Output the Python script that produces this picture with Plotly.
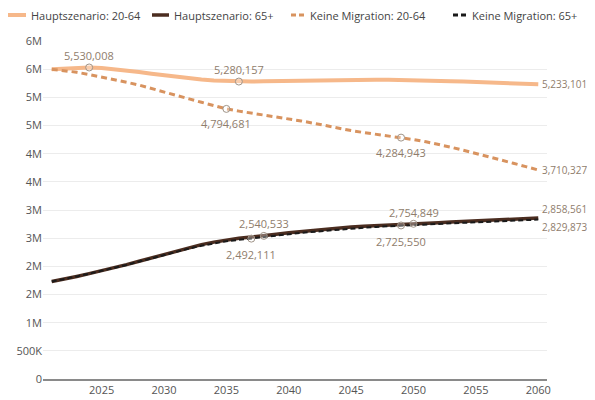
import plotly.graph_objects as go

years = list(range(2021, 2061))

haupt_2064 = [5500000, 5512000, 5524000, 5530008, 5522000, 5503000, 5478000, 5450000, 5420000, 5390000,
              5362000, 5338000, 5316000, 5300000, 5288000, 5280157, 5280000, 5284000, 5289000, 5294000,
              5298000, 5302000, 5305000, 5308000, 5310000, 5311000, 5311000, 5310000, 5308000, 5305000,
              5300000, 5294000, 5287000, 5280000, 5272000, 5264000, 5256000, 5248000, 5240000, 5233101]

haupt_65 = [1730000, 1770000, 1820000, 1870000, 1920000, 1970000, 2030000, 2090000, 2150000, 2210000,
            2270000, 2330000, 2385000, 2430000, 2470000, 2500000, 2522000, 2540533, 2570000, 2598000,
            2620000, 2641000, 2661000, 2680000, 2697000, 2711000, 2724000, 2735000, 2745000, 2754849,
            2765000, 2775000, 2785000, 2795000, 2805000, 2815000, 2825000, 2835000, 2847000, 2858561]

keine_2064 = [5500000, 5478000, 5445000, 5405000, 5362000, 5316000, 5268000, 5218000, 5160000, 5095000,
              5033000, 4972000, 4912000, 4852000, 4794681, 4755000, 4722000, 4690000, 4655000, 4620000,
              4580000, 4540000, 4495000, 4450000, 4410000, 4375000, 4345000, 4315000, 4284943, 4250000,
              4210000, 4165000, 4115000, 4060000, 4005000, 3950000, 3890000, 3830000, 3770000, 3710327]

keine_65 = [1730000, 1770000, 1820000, 1870000, 1920000, 1970000, 2025000, 2085000, 2145000, 2205000,
            2260000, 2315000, 2365000, 2410000, 2445000, 2470000, 2492111, 2515000, 2540000, 2570000,
            2595000, 2615000, 2635000, 2655000, 2670000, 2685000, 2700000, 2712000, 2725550, 2735000,
            2745000, 2755000, 2765000, 2773000, 2781000, 2789000, 2797000, 2806000, 2817000, 2829873]

series_names = ["Hauptszenario: 20-64", "Hauptszenario: 65+", "Keine Migration: 20-64", "Keine Migration: 65+"]

y_tickvals = [0, 500000, 1000000, 1500000, 2000000, 2500000, 3000000, 3500000, 4000000, 4500000, 5000000, 5500000, 6000000]
y_ticktext = ["0", "500K", "1M", "2M", "2M", "3M", "3M", "4M", "4M", "5M", "5M", "6M", "6M"]
x_tickvals = [2025, 2030, 2035, 2040, 2045, 2050, 2055, 2060]

# labelled points: (series values, year, marker?, pixel shift x, pixel shift y, anchor, font size)
labels = [
    (haupt_2064, 2024, True, 0, 12, "center", 11),
    (haupt_2064, 2036, True, 0, 12, "center", 11),
    (keine_2064, 2035, True, 0, -15, "center", 11),
    (keine_2064, 2049, True, 0, -15, "center", 11),
    (haupt_65, 2038, True, 0, 12, "center", 11),
    (keine_65, 2037, True, 0, -16, "center", 11),
    (haupt_65, 2050, True, 0, 11, "center", 11),
    (keine_65, 2049, True, 0, -16, "center", 11),
    (haupt_2064, 2060, False, 2, 0, "left", 10),
    (keine_2064, 2060, False, 2, 0, "left", 10),
    (haupt_65, 2060, False, 2, 9, "left", 10),
    (keine_65, 2060, False, 2, -7, "left", 10),
]

c_h2064 = "#f6b88a"
c_h65 = "#4b2d20"
c_k2064 = "#d8935f"
c_k65 = "#1a1a1a"
label_color = "#8f7d6c"

# layout geometry (pixels); the page body adds an 8px offset
OFF = 8
W, H = 595 - OFF, 400 - OFF
ML, MR, MT, MB = 43 - OFF, 48, 41 - OFF, 21
PW, PH = W - ML - MR, H - MT - MB


def px2paper_x(px):
    return (px - OFF - ML) / PW


def px2paper_y(py):
    return (400 - MB - py) / PH


fig = go.Figure()
fig.add_trace(go.Scatter(x=years, y=haupt_2064, mode="lines", name=series_names[0], showlegend=False,
                         line=dict(color=c_h2064, width=4)))
fig.add_trace(go.Scatter(x=years, y=haupt_65, mode="lines", name=series_names[1], showlegend=False,
                         line=dict(color=c_h65, width=3.5)))
fig.add_trace(go.Scatter(x=years, y=keine_2064, mode="lines", name=series_names[2], showlegend=False,
                         line=dict(color=c_k2064, width=3, dash="6px,4px")))
fig.add_trace(go.Scatter(x=years, y=keine_65, mode="lines", name=series_names[3], showlegend=False,
                         line=dict(color=c_k65, width=2, dash="5px,3px")))

mx, my = [], []
for vals, yr, mk, sx, sy, anc, fs in labels:
    v = vals[years.index(yr)]
    if mk:
        mx.append(yr)
        my.append(v)
    fig.add_annotation(x=yr, y=v, xref="x", yref="y", text=f"{v:,}", showarrow=False,
                       xanchor=anc, yanchor="middle", xshift=sx, yshift=sy,
                       font=dict(size=fs, color=label_color))

fig.add_trace(go.Scatter(x=mx, y=my, mode="markers", showlegend=False, hoverinfo="skip",
                         marker=dict(size=7, color="rgba(255,255,255,0.3)",
                                     line=dict(color="#a09488", width=1))))

# manual legend (reference pixel positions)
legend_items = [
    (8, 26, 29, c_h2064, 4, "solid"),
    (152, 169, 172, c_h65, 3.5, "solid"),
    (291, 305, 308, c_k2064, 3, "5px,3px"),
    (453, 467, 470, c_k65, 3, "5px,3px"),
]
ly = px2paper_y(15)
for name, (x0, x1, tx, col, wd, dsh) in zip(series_names, legend_items):
    fig.add_shape(type="line", xref="paper", yref="paper", x0=px2paper_x(x0), x1=px2paper_x(x1),
                  y0=ly, y1=ly, line=dict(color=col, width=wd, dash=dsh))
    fig.add_annotation(xref="paper", yref="paper", x=px2paper_x(tx), y=ly, text=name,
                       showarrow=False, xanchor="left", yanchor="middle",
                       font=dict(size=11, color="#444444"))

fig.update_layout(
    width=W, height=H,
    margin=dict(l=ML, r=MR, t=MT, b=MB, autoexpand=False),
    paper_bgcolor="white", plot_bgcolor="white",
    font=dict(family="Open Sans, sans-serif", size=11, color="#555555"),
    showlegend=False,
    xaxis=dict(range=[2020.3, 2060.7], tickvals=x_tickvals, showgrid=False, zeroline=False,
               showline=True, linecolor="#8a8a8a", linewidth=2, ticks="", automargin=False,
               tickfont=dict(size=11, color="#555555")),
    yaxis=dict(range=[0, 6000000], tickvals=y_tickvals, ticktext=y_ticktext, showgrid=True,
               gridcolor="#ececec", gridwidth=1, zeroline=False, showline=False, ticks="",
               automargin=False, tickfont=dict(size=11, color="#555555")),
)

fig.write_html("out.html")
